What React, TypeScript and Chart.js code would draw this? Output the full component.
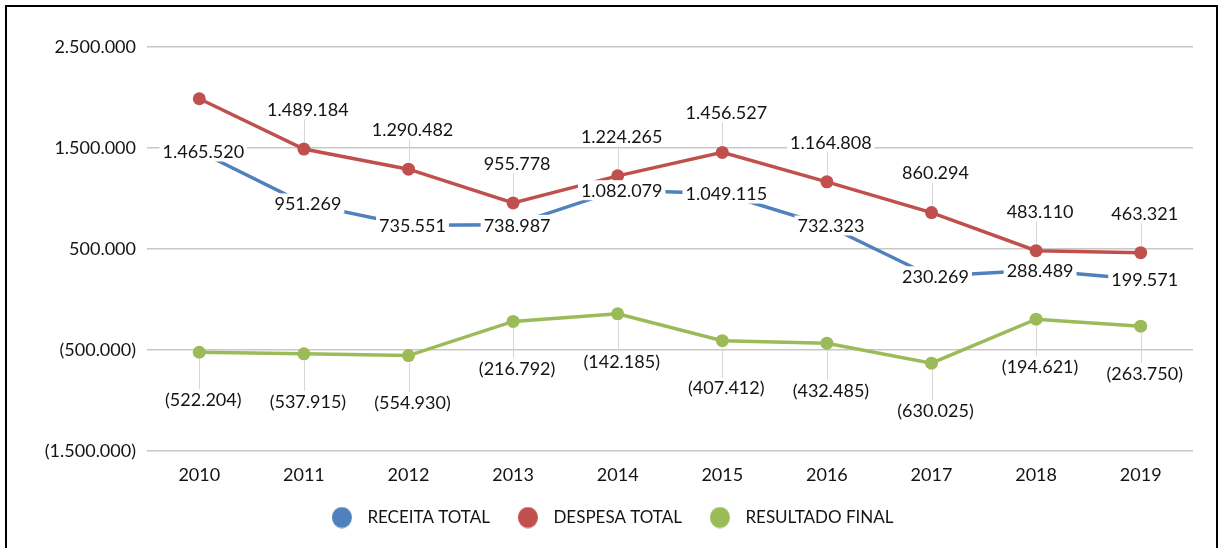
import React, { useEffect, useRef } from 'react';
import { Chart, registerables } from 'chart.js';

Chart.register(...registerables);

const years = ['2010', '2011', '2012', '2013', '2014', '2015', '2016', '2017', '2018', '2019'];
const receitaTotal = [1465520, 951269, 735551, 738987, 1082079, 1049115, 732323, 230269, 288489, 199571];
const despesaTotal = [1987724, 1489184, 1290482, 955778, 1224265, 1456527, 1164808, 860294, 483110, 463321];
const resultadoFinal = [-522204, -537915, -554930, -216792, -142185, -407412, -432485, -630025, -194621, -263750];
const seriesNames = ['RECEITA TOTAL', 'DESPESA TOTAL', 'RESULTADO FINAL'];
const seriesColors = ['#4F81BD', '#C0504D', '#9BBB59'];
const yTicks = [-1500000, -500000, 500000, 1500000, 2500000];
const hiddenLabels: number[][] = [[], [0], []];

const FONT = 'Lato';
const TEXT_COLOR = '#141414';
const LABEL_OFFSET = [0, -40, 47];

const fmt = (v: number) => {
  const s = String(Math.abs(Math.round(v))).replace(/\B(?=(\d{3})+(?!\d))/g, '.');
  return v < 0 ? `(${s})` : s;
};

const dataLabelPlugin = {
  id: 'dataLabels',
  afterDatasetsDraw(chart: any) {
    const ctx = chart.ctx;
    ctx.save();
    ctx.font = `18px ${FONT}`;
    ctx.textAlign = 'center';
    ctx.textBaseline = 'middle';
    const items: any[] = [];
    chart.data.datasets.forEach((ds: any, di: number) => {
      const meta = chart.getDatasetMeta(di);
      meta.data.forEach((pt: any, i: number) => {
        if (hiddenLabels[di].includes(i)) return;
        const text = fmt(ds.data[i]);
        const w = ctx.measureText(text).width;
        items.push({ x: pt.x + 4, y: pt.y + LABEL_OFFSET[di], px: pt.x, py: pt.y, w, text, di });
      });
    });
    ctx.strokeStyle = '#d6d6d6';
    ctx.lineWidth = 1;
    items.forEach((it) => {
      if (it.di === 0) return;
      const x = Math.round(it.px) + 0.5;
      ctx.beginPath();
      if (it.di === 1) {
        ctx.moveTo(x, it.py - 7);
        ctx.lineTo(x, it.y + 10);
      } else {
        ctx.moveTo(x, it.py + 7);
        ctx.lineTo(x, it.y - 10);
      }
      ctx.stroke();
    });
    items.forEach((it) => {
      ctx.fillStyle = '#ffffff';
      ctx.fillRect(it.x - it.w / 2 - 3, it.y - 10, it.w + 6, 20);
      ctx.fillStyle = TEXT_COLOR;
      ctx.fillText(it.text, it.x, it.y + 1);
    });
    ctx.restore();
  },
};

function makeDot(color: string) {
  const c = document.createElement('canvas');
  c.width = 45;
  c.height = 22;
  const g = c.getContext('2d')!;
  g.fillStyle = color;
  g.beginPath();
  g.ellipse(28, 11, 10, 10.5, 0, 0, Math.PI * 2);
  g.fill();
  return c;
}

export default function App() {
  const ref = useRef<HTMLCanvasElement | null>(null);

  useEffect(() => {
    let chart: Chart | null = null;
    let cancelled = false;
    const build = () => {
      if (cancelled || !ref.current) return;
      const dots = seriesColors.map(makeDot);
      const series = [receitaTotal, despesaTotal, resultadoFinal];
      chart = new Chart(ref.current, {
        type: 'line',
        data: {
          labels: years,
          datasets: series.map((d, i) => ({
            label: seriesNames[i],
            data: d,
            borderColor: seriesColors[i],
            backgroundColor: seriesColors[i],
            borderWidth: 3.5,
            pointRadius: i === 0 ? 0 : 6.5,
            pointBorderWidth: 0,
            pointHoverRadius: 0,
            tension: 0,
            fill: false,
          })),
        },
        options: {
          responsive: false,
          animation: false,
          events: [],
          layout: { padding: { top: 47, right: 27, bottom: 12, left: 14.5 } },
          plugins: {
            tooltip: { enabled: false },
            legend: {
              position: 'bottom',
              labels: {
                usePointStyle: true,
                pointStyleWidth: 45,
                boxHeight: 17,
                padding: 10,
                font: { family: FONT, size: 17 },
                color: TEXT_COLOR,
                generateLabels: (ch: any) => {
                  const base = (Chart.defaults.plugins.legend.labels as any).generateLabels(ch);
                  return base.map((it: any, i: number) => ({ ...it, pointStyle: dots[i] }));
                },
              },
            },
          },
          scales: {
            x: {
              offset: true,
              afterFit: (s: any) => {
                s.height = 48;
              },
              grid: { display: false, drawTicks: false },
              border: { display: false },
              ticks: { font: { family: FONT, size: 18 }, color: TEXT_COLOR, padding: 13 },
            },
            y: {
              min: -1500000,
              max: 2500000,
              afterFit: (s: any) => {
                s.width = 132.5;
              },
              afterBuildTicks: (s: any) => {
                s.ticks = yTicks.map((v) => ({ value: v }));
              },
              grid: { color: '#c8c8c8', lineWidth: 1.5, drawTicks: false },
              border: { display: false },
              ticks: {
                font: { family: FONT, size: 18 },
                color: TEXT_COLOR,
                padding: 11,
                callback: (v: any) => fmt(Number(v)),
              },
            },
          },
        },
        plugins: [dataLabelPlugin],
      } as any);
    };
    const fontsReady = (document as any).fonts
      ? Promise.all([
          (document as any).fonts.load(`18px ${FONT}`),
          (document as any).fonts.load(`17px ${FONT}`),
        ]).catch(() => null)
      : Promise.resolve(null);
    fontsReady.then(build);
    return () => {
      cancelled = true;
      if (chart) chart.destroy();
    };
  }, []);

  return (
    <div style={{ position: 'fixed', left: 0, top: 0, width: 1220, height: 548, background: '#ffffff', overflow: 'hidden' }}>
      <canvas ref={ref} width={1220} height={548} style={{ display: 'block', position: 'absolute', left: 0, top: 0 }} />
      <div
        style={{
          position: 'absolute',
          left: 5,
          top: 5,
          width: 1213,
          height: 600,
          border: '2px solid #000',
          boxSizing: 'border-box',
          pointerEvents: 'none',
        }}
      />
    </div>
  );
}
